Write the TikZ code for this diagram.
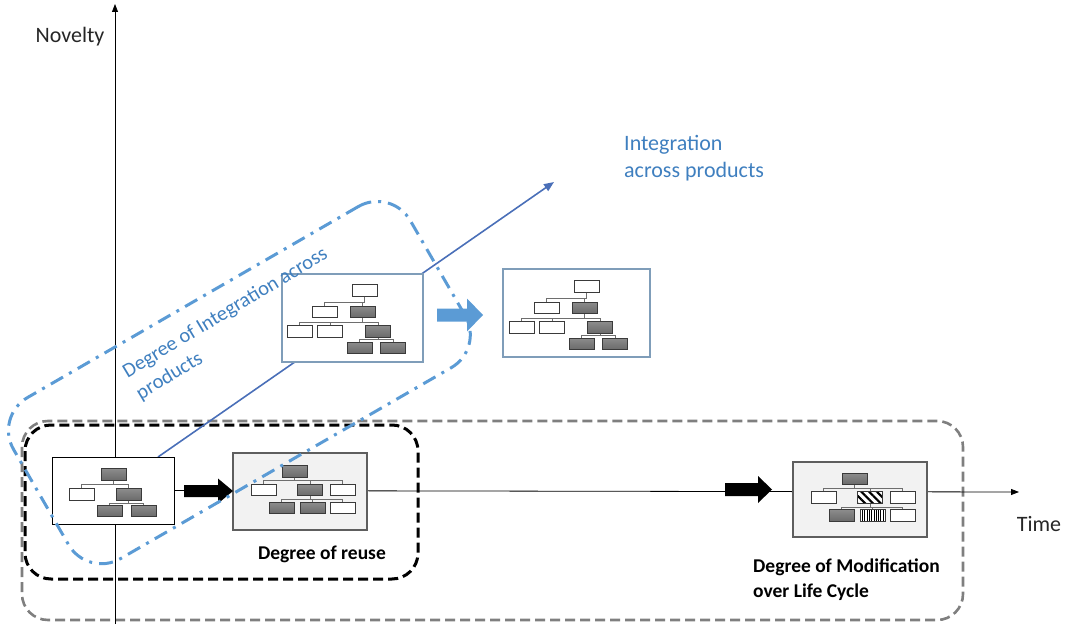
\documentclass[tikz,border=0pt]{standalone}
\usepackage{fontspec}
\setmainfont{Carlito}
\usetikzlibrary{arrows.meta,patterns.meta}
\definecolor{boxline}{HTML}{3A3A3A}
\definecolor{treegraytop}{HTML}{8C8C8C}
\definecolor{treegraybot}{HTML}{6A6A6A}
\definecolor{conngray}{HTML}{6E6E6E}
\definecolor{lightfill}{HTML}{F2F2F2}
\definecolor{framegray}{HTML}{5E5E5E}
\definecolor{bluegray}{HTML}{7F9DB9}
\definecolor{axisblue}{HTML}{4A6FB8}
\definecolor{ddblue}{HTML}{5B9BD5}
\definecolor{txtblue}{HTML}{3F7FBF}
\definecolor{dashgray}{HTML}{7F7F7F}
\definecolor{txtdark}{HTML}{262626}
\newcommand\conn[3]{\draw[tl] (#1.south) -- ++(0,#3) -| (#2.north);}
\begin{document}
\begin{tikzpicture}[x=1pt,y=-1pt,
  wb/.style={draw=boxline, fill=white, line width=0.9pt, minimum width=25pt, minimum height=11.5pt, inner sep=0pt},
  gb/.style={wb, top color=treegraytop, bottom color=treegraybot},
  hb/.style={wb, preaction={fill=white}, pattern={Lines[angle=-45,distance=5.5pt,line width=2.2pt]}},
  vb/.style={wb, preaction={fill=white}, pattern={Lines[angle=90,distance=2.3pt,line width=1pt]}},
  tl/.style={draw=conngray, line width=0.9pt},
  whitebig/.style={draw=black, fill=white, line width=0.9pt, inner sep=0pt},
  graybig/.style={draw=framegray, fill=lightfill, line width=1.2pt, inner sep=0pt},
  bluebig/.style={draw=bluegray, fill=white, line width=1.2pt, inner sep=0pt},
  axis/.style={draw=black, line width=0.8pt, -{Triangle[length=8pt,width=6pt]}},
  blockarr/.style={fill=black},
  bluearr/.style={fill=ddblue},
  lbl/.style={text=txtdark, font=\fontsize{22}{26}\selectfont, inner sep=0pt},
  boldlbl/.style={text=black, font=\fontsize{19.5}{25}\selectfont\bfseries, inner sep=0pt},
  bluelbl/.style={text=txtblue, font=\fontsize{22}{27}\selectfont, inner sep=0pt},
]
\useasboundingbox (0,0) rectangle (1066,626);

% dashed frames
\draw[draw=dashgray, line width=2.6pt, dash pattern=on 10pt off 5pt, rounded corners=26pt] (22,421) rectangle (963,620);
\draw[draw=black, line width=3pt, dash pattern=on 10pt off 5pt, rounded corners=26pt] (25,425) rectangle (418,579);

% axes
\coordinate (vbot) at (115,624);
\coordinate (vtop) at (115,4);
\draw[axis] (vbot) -- (vtop);
\coordinate (hend) at (1019,492);
\coordinate (hstart) at (174,490.5);
\draw[axis] (hstart) -- (hend);

% blue diagonal axis
\coordinate (istart) at (158,457);
\coordinate (iend) at (554,182);
\draw[draw=axisblue, line width=1.6pt, -{Triangle[length=10pt,width=8pt]}] (istart) -- (iend);

% big boxes
\node[whitebig, minimum width=122pt, minimum height=67pt] (box1) at (113,490.5) {};
\node[graybig, minimum width=134pt, minimum height=77pt] (box2) at (300,491.5) {};
\node[graybig, minimum width=134pt, minimum height=75pt] (box3) at (860,499.5) {};
\node[bluebig, minimum width=141pt, minimum height=88pt] (box4) at (352.5,318) {};
\node[bluebig, minimum width=147pt, minimum height=88pt] (box5) at (576.5,313) {};

% tree in box4
\begin{scope}[shift={(364.5,290.5)}]
\node[wb] (dr) at (0,0) {};
\node[wb] (da1) at (-40,21.3) {};
\node[gb] (da2) at (-1.8,21.3) {};
\node[wb] (db1) at (-65,41) {};
\node[wb] (db2) at (-34.3,41) {};
\node[gb] (db3) at (13.5,41) {};
\node[gb] (dc1) at (-5,57.3) {};
\node[gb] (dc2) at (28.7,57.3) {};
\end{scope}
\conn{dr}{da1}{5.5}\conn{dr}{da2}{5.5}
\conn{da2}{db1}{4.2}\conn{da2}{db2}{4.2}\conn{da2}{db3}{4.2}
\conn{db3}{dc1}{2.2}\conn{db3}{dc2}{2.2}

% tree in box5
\begin{scope}[shift={(586.5,286.5)}]
\node[wb] (er) at (0,0) {};
\node[wb] (ea1) at (-40,21.3) {};
\node[gb] (ea2) at (-1.8,21.3) {};
\node[wb] (eb1) at (-65,41) {};
\node[wb] (eb2) at (-34.3,41) {};
\node[gb] (eb3) at (13.5,41) {};
\node[gb] (ec1) at (-5,57.3) {};
\node[gb] (ec2) at (28.7,57.3) {};
\end{scope}
\conn{er}{ea1}{5.5}\conn{er}{ea2}{5.5}
\conn{ea2}{eb1}{4.2}\conn{ea2}{eb2}{4.2}\conn{ea2}{eb3}{4.2}
\conn{eb3}{ec1}{2.2}\conn{eb3}{ec2}{2.2}

% tree in box1
\begin{scope}[shift={(113.5,474.5)}]
\node[gb] (ar) at (0,0) {};
\node[wb] (aa1) at (-32,20) {};
\node[gb] (aa2) at (15,20) {};
\node[gb] (ab1) at (-4,36.5) {};
\node[gb] (ab2) at (30,36.5) {};
\end{scope}
\conn{ar}{aa1}{3.8}\conn{ar}{aa2}{3.8}
\conn{aa2}{ab1}{2.4}\conn{aa2}{ab2}{2.4}

% tree in box2
\begin{scope}[shift={(294.5,471.5)}]
\node[gb] (br) at (0,0) {};
\node[wb] (ba1) at (-31,18.5) {};
\node[gb] (ba2) at (15.5,18.5) {};
\node[wb] (ba3) at (48,18.5) {};
\node[gb] (bb1) at (-13,36.5) {};
\node[gb] (bb2) at (18,36.5) {};
\node[wb] (bb3) at (48,36.5) {};
\end{scope}
\conn{br}{ba1}{2.8}\conn{br}{ba2}{2.8}\conn{br}{ba3}{2.8}
\conn{ba2}{bb1}{3.2}\conn{ba2}{bb2}{3.2}\conn{ba2}{bb3}{3.2}

% tree in box3
\begin{scope}[shift={(854.5,479)}]
\node[gb] (cr) at (0,0) {};
\node[wb] (ca1) at (-31,18.5) {};
\node[hb] (ca2) at (15.5,18.5) {};
\node[wb] (ca3) at (48,18.5) {};
\node[gb] (cb1) at (-13,36.5) {};
\node[vb] (cb2) at (18,36.5) {};
\node[wb] (cb3) at (48,36.5) {};
\end{scope}
\conn{cr}{ca1}{2.8}\conn{cr}{ca2}{2.8}\conn{cr}{ca3}{2.8}
\conn{ca2}{cb1}{3.2}\conn{ca2}{cb2}{3.2}\conn{ca2}{cb3}{3.2}

% block arrows
\fill[blockarr] (184,485) -- (218,485) -- (218,478.5) -- (233,491) -- (218,503.5) -- (218,497) -- (184,497) -- cycle;
\fill[blockarr] (725,483) -- (758,483) -- (758,476) -- (772,489.5) -- (758,503) -- (758,496) -- (725,496) -- cycle;
\fill[bluearr] (437,308.5) -- (467,308.5) -- (467,298.5) -- (483,315) -- (467,331.5) -- (467,321.5) -- (437,321.5) -- cycle;

% dash-dot integration frame
\node[draw=ddblue, line width=3pt, dash pattern=on 14pt off 7pt on 3pt off 7pt, rounded corners=38pt,
      rotate=30, minimum width=458pt, minimum height=186pt, inner sep=0pt] (intg) at (239.4,382.6) {};

% texts
\node[lbl] (nov) at (70,37) {Novelty};
\node[lbl] (time) at (1039,524) {Time};
\node[bluelbl, anchor=west, align=left] (itxt) at (624,158) {Integration\\across products};
\node[bluelbl, rotate=31, align=left, font=\fontsize{20.5}{25.7}\selectfont] (dtxt) at (232,324) {Degree of Integration across\\products};
\node[boldlbl] (reuse) at (322,554) {Degree of reuse};
\node[boldlbl, anchor=west, align=left] (modt) at (753,580) {Degree of Modification\\over Life Cycle};
\end{tikzpicture}
\end{document}
